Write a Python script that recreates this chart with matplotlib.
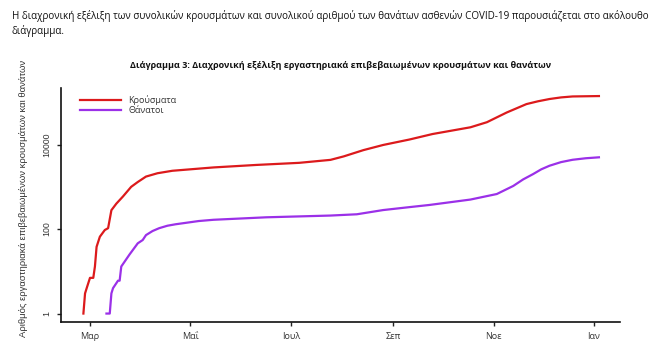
import numpy as np
import pandas as pd
import matplotlib
matplotlib.use("Agg")
import matplotlib.pyplot as plt
import matplotlib.dates as mdates

# cumulative confirmed cases (dates and totals)
case_dates = ["2020-02-26", "2020-02-27", "2020-02-28", "2020-03-01", "2020-03-03",
              "2020-03-04", "2020-03-05", "2020-03-07", "2020-03-10", "2020-03-12",
              "2020-03-14", "2020-03-17", "2020-03-21", "2020-03-26", "2020-03-30",
              "2020-04-04", "2020-04-11", "2020-04-20", "2020-05-15", "2020-06-10",
              "2020-07-06", "2020-07-25", "2020-08-02", "2020-08-14", "2020-08-26",
              "2020-09-11", "2020-09-25", "2020-10-18", "2020-10-28", "2020-11-09",
              "2020-11-21", "2020-11-28", "2020-12-05", "2020-12-12", "2020-12-19",
              "2021-01-04"]
case_values = [1, 3, 4, 7, 7, 13, 38, 66, 95, 105, 280, 400, 590, 1000, 1300,
               1750, 2100, 2400, 2880, 3300, 3700, 4350, 5250, 7400, 9800, 13200,
               17800, 25700, 33900, 57500, 91000, 106000, 120000, 131000, 138000,
               141000]

# cumulative deaths
death_dates = ["2020-03-11", "2020-03-13", "2020-03-14", "2020-03-15", "2020-03-18",
               "2020-03-19", "2020-03-20", "2020-03-25", "2020-03-30", "2020-04-02",
               "2020-04-04", "2020-04-08", "2020-04-12", "2020-04-17", "2020-04-22",
               "2020-05-06", "2020-05-15", "2020-06-16", "2020-07-25", "2020-08-10",
               "2020-08-26", "2020-09-11", "2020-09-23", "2020-10-18", "2020-11-03",
               "2020-11-13", "2020-11-19", "2020-11-25", "2020-11-30", "2020-12-05",
               "2020-12-12", "2020-12-19", "2020-12-27", "2021-01-04"]
death_values = [1, 1, 3, 4, 6, 6, 13, 25, 46, 55, 72, 90, 105, 120, 130, 155, 166,
                190, 209, 224, 282, 331, 372, 500, 676, 1050, 1500, 2000, 2600,
                3160, 3850, 4370, 4750, 5000]

month_ticks = ["2020-03-01", "2020-05-01", "2020-07-01", "2020-09-01", "2020-11-01", "2021-01-01"]
month_labels = ["Μαρ", "Μαΐ", "Ιουλ", "Σεπ", "Νοε", "Ιαν"]
y_ticks = [1, 100, 10000]
y_labels = ["1", "100", "10000"]

W, H = 665, 347
fig = plt.figure(figsize=(W / 100, H / 100), dpi=100)
fig.patch.set_facecolor("white")

# intro paragraph above the chart
fig.text(12 / W, 1 - 16 / H,
         "Η διαχρονική εξέλιξη των συνολικών κρουσμάτων και συνολικού αριθμού των θανάτων ασθενών COVID-19 παρουσιάζεται στο ακόλουθο",
         fontsize=7.1, family="Open Sans", va="center", ha="left", color="#111111")
fig.text(12 / W, 1 - 31 / H, "διάγραμμα.",
         fontsize=7.1, family="Open Sans", va="center", ha="left", color="#111111")

fig.text(341 / W, 1 - 66 / H,
         "Διάγραμμα 3: Διαχρονική εξέλιξη εργαστηριακά επιβεβαιωμένων κρουσμάτων και θανάτων",
         fontsize=6.5, family="Open Sans", weight="bold", va="center", ha="center", color="#111111")

ax = fig.add_axes([61 / W, 1 - 322 / H, (620 - 61) / W, (322 - 88) / H])

cd = pd.to_datetime(case_dates)
dd = pd.to_datetime(death_dates)
ax.plot(cd, case_values, color="#dc1a1c", lw=1.6, label="Κρούσματα", solid_joinstyle="round")
ax.plot(dd, death_values, color="#9b30e8", lw=1.6, label="Θάνατοι", solid_joinstyle="round")

ax.set_yscale("log")
ax.set_ylim(10 ** -0.2, 10 ** 5.34)
ax.set_xlim(pd.Timestamp("2020-03-01") - pd.Timedelta(days=17.6),
            pd.Timestamp("2020-03-01") + pd.Timedelta(days=321.8))

ax.set_yticks(y_ticks)
ax.set_yticklabels(y_labels, rotation=90, va="center", fontsize=6.3, family="Liberation Sans", color="#333333")
ax.yaxis.set_minor_locator(matplotlib.ticker.NullLocator())
ax.set_xticks(pd.to_datetime(month_ticks))
ax.set_xticklabels(month_labels, fontsize=6.5, family="Open Sans", color="#333333")
ax.tick_params(axis="both", length=3, width=1, color="#222222", pad=4)

for s in ["top", "right"]:
    ax.spines[s].set_visible(False)
for s in ["left", "bottom"]:
    ax.spines[s].set_linewidth(1.2)
    ax.spines[s].set_color("#111111")

ax.set_ylabel("Αριθμός εργαστηριακά επιβεβαιωμένων κρουσμάτων και θανάτων",
              fontsize=6.8, family="Liberation Sans", color="#333333")
ax.yaxis.set_label_coords(-33 / (620 - 61), 0.53)

ax.legend(loc="upper left", bbox_to_anchor=(0.02, 1.005), frameon=False,
          prop={"family": "Open Sans", "size": 6.5}, handlelength=4.5,
          handletextpad=0.8, labelspacing=0.15, labelcolor="#333333")

fig.savefig("out.png", dpi=100)
